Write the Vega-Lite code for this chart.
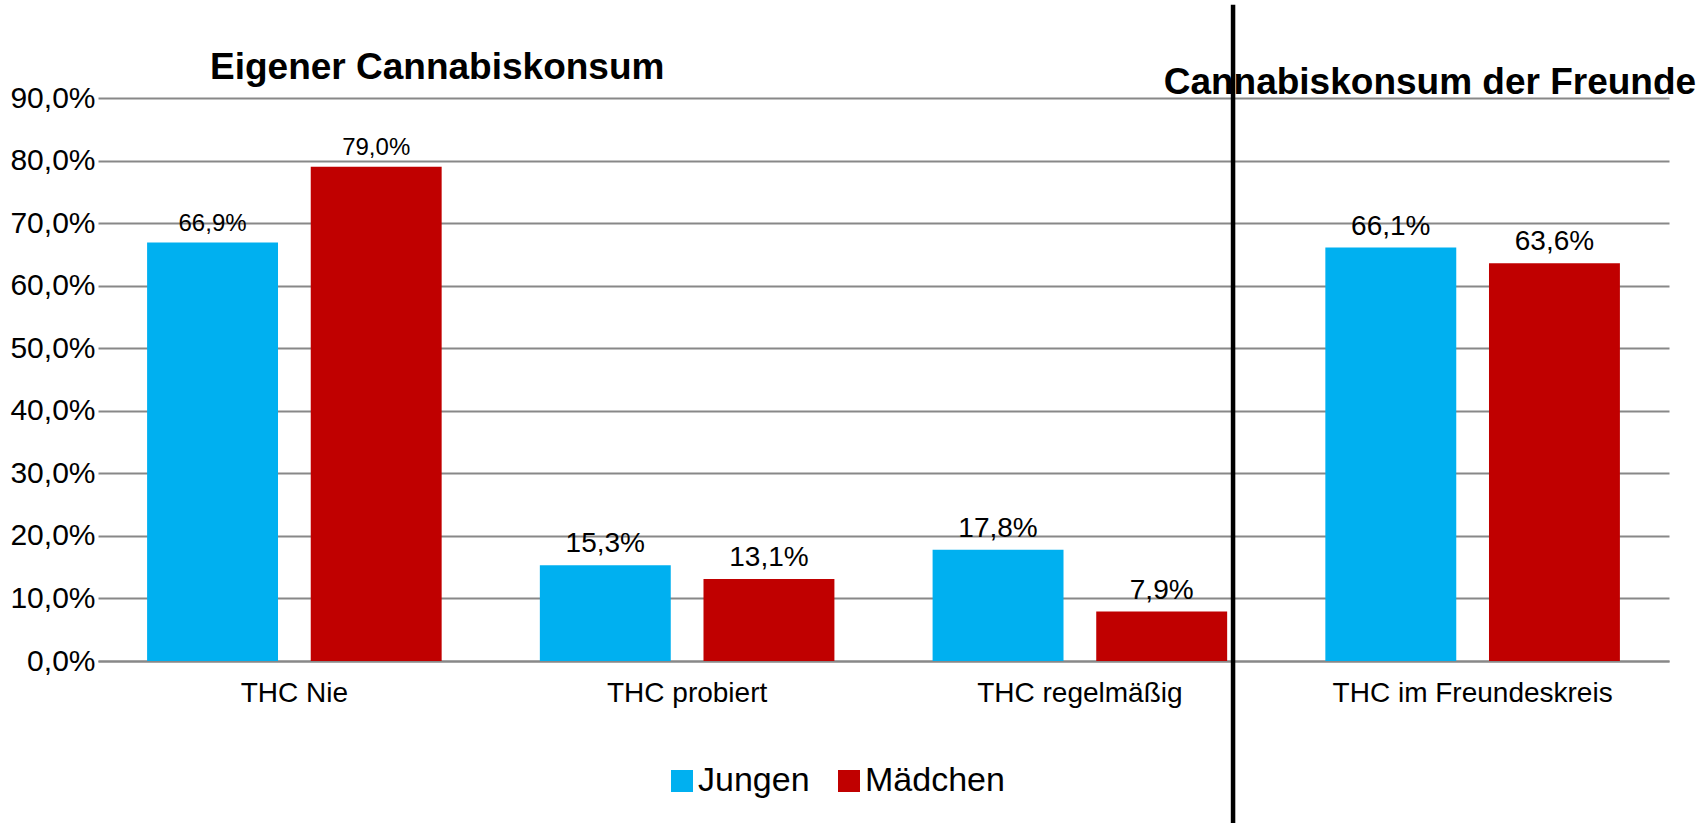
{
  "$schema": "https://vega.github.io/schema/vega-lite/v6.json",
  "autosize": {"type": "none"},
  "padding": {"left": 98, "top": 98, "right": 39, "bottom": 162},
  "width": 1571,
  "height": 563,
  "background": "white",
  "config": {"view": {"stroke": null}, "font": "Liberation Sans"},
  "datasets": {
    "bars": [
      {"cat": "THC Nie", "group": "Jungen", "v": 66.9},
      {"cat": "THC Nie", "group": "Mädchen", "v": 79.0},
      {"cat": "THC probiert", "group": "Jungen", "v": 15.3},
      {"cat": "THC probiert", "group": "Mädchen", "v": 13.1},
      {"cat": "THC regelmäßig", "group": "Jungen", "v": 17.8},
      {"cat": "THC regelmäßig", "group": "Mädchen", "v": 7.9},
      {"cat": "THC im Freundeskreis", "group": "Jungen", "v": 66.1},
      {"cat": "THC im Freundeskreis", "group": "Mädchen", "v": 63.6}
    ]
  },
  "layer": [
    {
      "data": {"name": "bars"},
      "mark": {"type": "bar"},
      "encoding": {
        "x": {
          "field": "cat", "type": "nominal", "title": null,
          "scale": {"domain": ["THC Nie", "THC probiert", "THC regelmäßig", "THC im Freundeskreis"], "paddingInner": 0.25, "paddingOuter": 0.125},
          "axis": {"labelAngle": 0, "labelFontSize": 28, "labelLimit": 0, "labelColor": "black", "labelPadding": 18, "ticks": false, "domainColor": "#888888", "domainWidth": 2, "grid": false}
        },
        "xOffset": {"field": "group", "type": "nominal", "scale": {"domain": ["Jungen", "Mädchen"], "paddingInner": 0.2}},
        "y": {
          "field": "v", "type": "quantitative", "title": null,
          "scale": {"domain": [0, 90], "nice": false},
          "axis": {"values": [0, 10, 20, 30, 40, 50, 60, 70, 80, 90], "labelExpr": "replace(format(datum.value, '.1f'), '.', ',') + '%'", "labelFontSize": 30, "labelColor": "black", "labelPadding": 3, "ticks": false, "domain": false, "gridColor": "#888888", "gridWidth": 2}
        },
        "color": {
          "field": "group", "type": "nominal",
          "scale": {"domain": ["Jungen", "Mädchen"], "range": ["#00B0F0", "#C00000"]},
          "legend": {"title": null, "orient": "none", "direction": "horizontal", "legendX": 567, "legendY": 666, "symbolType": "square", "symbolSize": 484, "symbolStrokeWidth": 0, "symbolOpacity": 1, "labelFontSize": 34, "labelColor": "black", "labelOffset": -1, "columnPadding": 22}
        }
      }
    },
    {
      "data": {"name": "bars"},
      "transform": [
        {"filter": "datum.cat == 'THC Nie'"},
        {"calculate": "replace(format(datum.v, '.1f'), '.', ',') + '%'", "as": "lbl"}
      ],
      "mark": {"type": "text", "fontSize": 24, "baseline": "alphabetic", "dy": -12, "color": "black"},
      "encoding": {
        "x": {"field": "cat", "type": "nominal", "title": null},
        "xOffset": {"field": "group", "type": "nominal"},
        "y": {"field": "v", "type": "quantitative", "title": null},
        "text": {"field": "lbl"}
      }
    },
    {
      "data": {"name": "bars"},
      "transform": [
        {"filter": "datum.cat != 'THC Nie'"},
        {"calculate": "replace(format(datum.v, '.1f'), '.', ',') + '%'", "as": "lbl"}
      ],
      "mark": {"type": "text", "fontSize": 28, "baseline": "alphabetic", "dy": -13, "color": "black"},
      "encoding": {
        "x": {"field": "cat", "type": "nominal", "title": null},
        "xOffset": {"field": "group", "type": "nominal"},
        "y": {"field": "v", "type": "quantitative", "title": null},
        "text": {"field": "lbl"}
      }
    },
    {
      "data": {"values": [{"t": "Eigener Cannabiskonsum"}]},
      "mark": {"type": "text", "fontSize": 37, "fontWeight": "bold", "baseline": "alphabetic", "align": "center", "color": "black"},
      "encoding": {
        "x": {"datum": "THC Nie", "bandPosition": 0.985, "title": null},
        "y": {"datum": 93.1, "title": null},
        "text": {"field": "t"}
      }
    },
    {
      "data": {"values": [{"t": "Cannabiskonsum der Freunde"}]},
      "mark": {"type": "text", "fontSize": 37, "fontWeight": "bold", "baseline": "alphabetic", "align": "center", "color": "black"},
      "encoding": {
        "x": {"datum": "THC im Freundeskreis", "bandPosition": 0.355, "title": null},
        "y": {"datum": 90.6, "title": null},
        "text": {"field": "t"}
      }
    },
    {
      "data": {"values": [{}]},
      "mark": {"type": "rule", "strokeWidth": 4.5, "color": "black"},
      "encoding": {
        "x": {"datum": "THC regelmäßig", "bandPosition": 1.02, "title": null},
        "y": {"datum": 104.9, "title": null},
        "y2": {"datum": -25.9}
      }
    }
  ]
}
